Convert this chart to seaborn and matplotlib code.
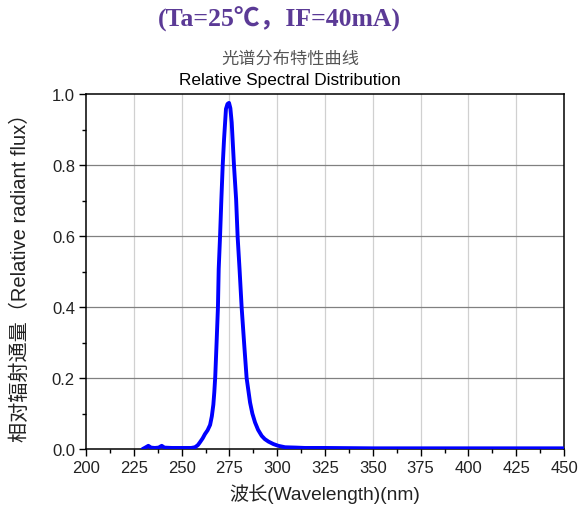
import matplotlib
matplotlib.use("Agg")
import matplotlib.pyplot as plt
import pandas as pd
import seaborn as sns
from matplotlib.ticker import MultipleLocator

sns.set_theme(style="white")
plt.rcParams["font.family"] = ["Liberation Sans", "Noto Sans CJK SC", "DejaVu Sans"]

# spectrum (nm, relative flux)
wavelength = [229.6, 231, 232.6, 234, 236, 238, 239.6, 241, 245, 250, 255, 257, 258.5,
              259.6, 261, 262.2, 263.6, 264.9, 265.8, 266.6, 267.1, 267.6, 268.3, 269.0,
              269.4, 270.1, 270.8, 271.5, 272.2, 273.2, 274.0, 274.8, 275.5, 276.2,
              277.4, 278.5, 279.3, 280.3, 281.4, 282.8, 284.0, 285.8, 287.0, 288.4,
              290.0, 291.9, 293.5, 295.4, 298.0, 300.6, 304.1, 310, 314.5, 325, 350,
              375, 400, 425, 450]
flux = [0.0, 0.004, 0.009, 0.004, 0.003, 0.004, 0.009, 0.004, 0.003, 0.003, 0.003, 0.005,
        0.011, 0.019, 0.03, 0.042, 0.053, 0.068, 0.092, 0.125, 0.16, 0.205, 0.3, 0.399,
        0.507, 0.598, 0.704, 0.80, 0.873, 0.958, 0.972, 0.975, 0.96, 0.92,
        0.798, 0.704, 0.598, 0.507, 0.399, 0.29, 0.2, 0.131, 0.1, 0.075,
        0.054, 0.037, 0.028, 0.021, 0.014, 0.009, 0.005, 0.004, 0.003, 0.003, 0.002,
        0.002, 0.002, 0.002, 0.002]

x_ticks = list(range(200, 451, 25))
y_ticks = [0.0, 0.2, 0.4, 0.6, 0.8, 1.0]

df = pd.DataFrame({"wavelength": wavelength, "flux": flux})

fig = plt.figure(figsize=(5.78, 5.10), dpi=100)
ax = fig.add_axes([0.1488, 0.1176, 0.8270, 0.6961])

# grid first so the curve sits on top
for xv in x_ticks[1:-1]:
    ax.axvline(xv, color="#d0d0d0", lw=0.9, zorder=0)
for yv in y_ticks[1:-1]:
    ax.axhline(yv, color="#808080", lw=0.9, zorder=0)

sns.lineplot(data=df, x="wavelength", y="flux", ax=ax, color="#0000ff",
             lw=2.8, estimator=None, zorder=3)

ax.set_xlim(200, 450)
ax.set_ylim(0, 1.0)
ax.set_xticks(x_ticks)
ax.set_yticks(y_ticks)
ax.set_yticklabels([f"{v:.1f}" for v in y_ticks])
ax.xaxis.set_minor_locator(MultipleLocator(12.5))
ax.yaxis.set_minor_locator(MultipleLocator(0.1))
ax.tick_params(which="major", direction="out", length=5, width=1, color="black",
               labelsize=12, labelcolor="#222222", bottom=True, left=True, pad=3)
ax.tick_params(which="minor", direction="out", length=3, width=1, color="black",
               bottom=True, left=True)
for sp in ax.spines.values():
    sp.set_color("black")
    sp.set_linewidth(1.1)

ax.set_xlabel("波长(Wavelength)(nm)", fontsize=13.8, color="#222222", labelpad=6)
ax.set_ylabel("相对辐射通量（Relative radiant flux）", fontsize=14.5, color="#222222",
              labelpad=16)

fig.text(0.483, 0.962, "(Ta=25℃，IF=40mA)", ha="center", va="center", fontsize=18.5,
         fontweight="bold", color="#5b3a96",
         family=["Liberation Serif", "Noto Sans CJK SC"])
fig.text(0.502, 0.884, "光谱分布特性曲线", ha="center", va="center", fontsize=12.4,
         color="#555555")
fig.text(0.502, 0.843, "Relative Spectral Distribution", ha="center", va="center",
         fontsize=12.4, color="black")

fig.savefig("out.png", dpi=100)
